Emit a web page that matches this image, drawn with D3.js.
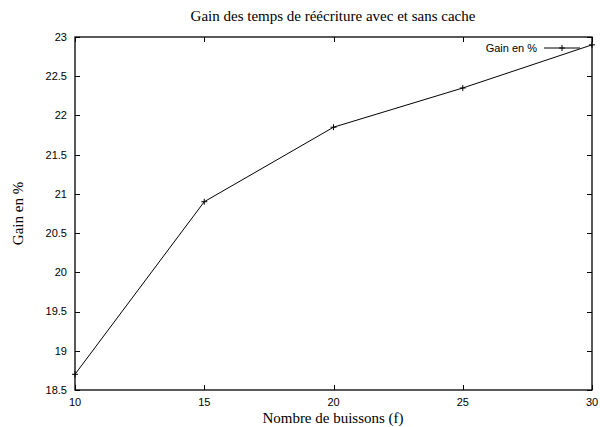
<!doctype html>
<html>
<head>
<meta charset="utf-8">
<style>
  body { margin: 0; background: #fff; }
  svg text { fill: #000; }
  .tick-label { font: 11px "Liberation Sans", Arial, sans-serif; }
  .serif { font-family: "Liberation Serif", "Times New Roman", serif; }
</style>
<script src="https://d3js.org/d3.v7.min.js"></script>
</head>
<body>
<div id="chart"></div>
<script>
var xValues = [10, 15, 20, 25, 30];
var gainValues = [18.7, 20.9, 21.85, 22.35, 22.9];
var xTicks = [10, 15, 20, 25, 30];
var yTicks = [18.5, 19, 19.5, 20, 20.5, 21, 21.5, 22, 22.5, 23];
var titleText = "Gain des temps de réécriture avec et sans cache";
var xLabelText = "Nombre de buissons (f)";
var yLabelText = "Gain en %";
var legendText = "Gain en %";

var width = 600, height = 427;
// note: "top" is reserved on window, so use plot* names
var plotLeft = 75, plotRight = 592, plotTop = 37, plotBottom = 390;

var svg = d3.select('#chart').append('svg')
  .attr('width', width).attr('height', height);

var x = d3.scaleLinear().domain([10, 30]).range([plotLeft, plotRight]);
var y = d3.scaleLinear().domain([18.5, 23]).range([plotBottom, plotTop]);

// ticks (inward, mirrored on all sides)
var tickLen = 5;
var g = svg.append('g').attr('stroke', '#000').attr('stroke-width', 1);
yTicks.forEach(function(v){
  var yy = Math.round(y(v)) + 0.5;
  g.append('line').attr('x1', plotLeft).attr('x2', plotLeft + tickLen).attr('y1', yy).attr('y2', yy);
  g.append('line').attr('x1', plotRight).attr('x2', plotRight - tickLen).attr('y1', yy).attr('y2', yy);
});
xTicks.forEach(function(v){
  var xx = Math.round(x(v)) + 0.5;
  g.append('line').attr('x1', xx).attr('x2', xx).attr('y1', plotBottom).attr('y2', plotBottom - tickLen);
  g.append('line').attr('x1', xx).attr('x2', xx).attr('y1', plotTop).attr('y2', plotTop + tickLen);
});

// border
svg.append('rect')
  .attr('x', plotLeft).attr('y', plotTop)
  .attr('width', plotRight - plotLeft).attr('height', plotBottom - plotTop)
  .attr('fill', 'none').attr('stroke', '#000').attr('stroke-width', 1.3);

// tick labels
svg.selectAll('.ylab').data(yTicks).enter().append('text')
  .attr('class', 'tick-label')
  .attr('x', plotLeft - 8).attr('y', function(d){ return y(d); })
  .attr('dy', '0.35em').attr('text-anchor', 'end')
  .text(function(d){ return d; });

svg.selectAll('.xlab').data(xTicks).enter().append('text')
  .attr('class', 'tick-label')
  .attr('x', function(d){ return x(d); }).attr('y', plotBottom + 12)
  .attr('dy', '0.35em').attr('text-anchor', 'middle')
  .text(function(d){ return d; });

// data line
var data = xValues.map(function(v, i){ return {x: v, y: gainValues[i]}; });
var line = d3.line().x(function(d){ return x(d.x); }).y(function(d){ return y(d.y); });
svg.append('path').datum(data)
  .attr('d', line).attr('fill', 'none').attr('stroke', '#000').attr('stroke-width', 1);

function plus(sel, cx, cy){
  sel.append('path')
    .attr('d', 'M' + (cx - 3) + ',' + cy + 'H' + (cx + 3) + 'M' + cx + ',' + (cy - 3) + 'V' + (cy + 3))
    .attr('stroke', '#000').attr('stroke-width', 1);
}
data.forEach(function(d){ plus(svg, x(d.x), y(d.y)); });

// legend
var legY = 48;
svg.append('text').attr('class', 'tick-label')
  .attr('x', 537).attr('y', legY).attr('dy', '0.35em').attr('text-anchor', 'end')
  .text(legendText);
svg.append('line').attr('x1', 544).attr('x2', 580).attr('y1', legY).attr('y2', legY)
  .attr('stroke', '#000').attr('stroke-width', 1);
plus(svg, 562, legY);

// titles
svg.append('text').attr('class', 'serif')
  .attr('x', 333).attr('y', 21).attr('text-anchor', 'middle')
  .style('font-size', '15px').text(titleText);
svg.append('text').attr('class', 'serif')
  .attr('x', 333).attr('y', 423).attr('text-anchor', 'middle')
  .style('font-size', '15px').text(xLabelText);
svg.append('text').attr('class', 'serif')
  .attr('transform', 'translate(23,' + ((plotTop + plotBottom) / 2) + ') rotate(-90)')
  .attr('text-anchor', 'middle')
  .style('font-size', '15px').text(yLabelText);
</script>
</body>
</html>
